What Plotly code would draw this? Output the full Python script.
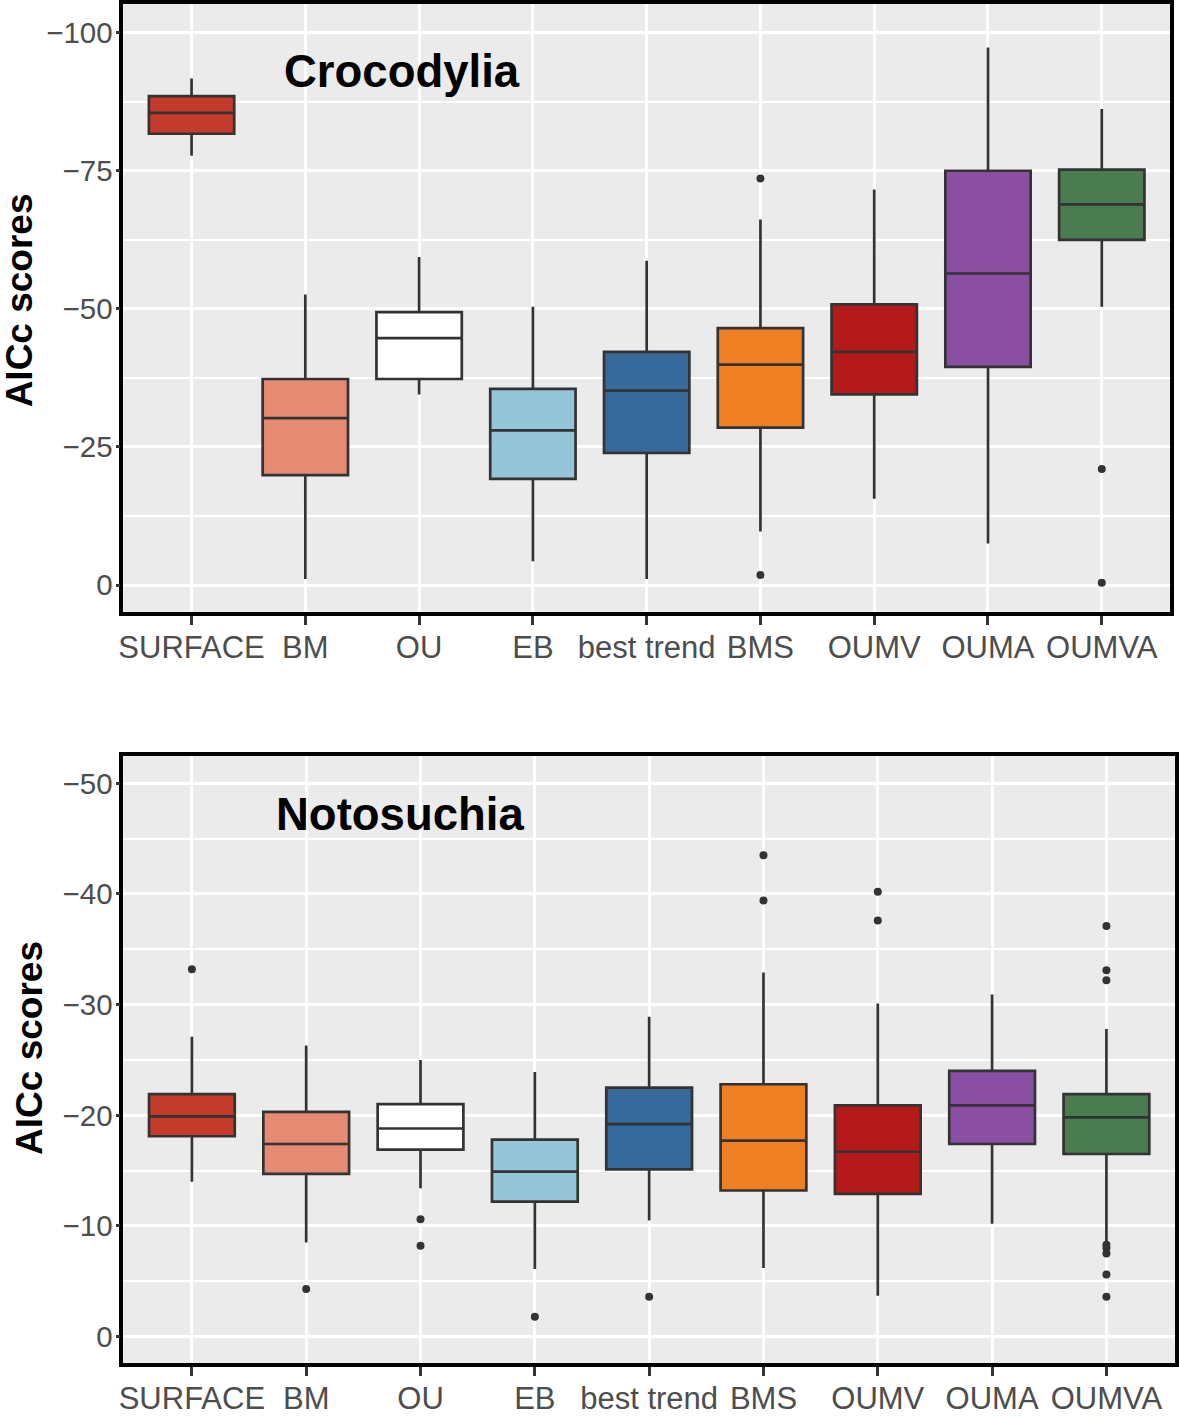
import plotly.graph_objects as go

categories = ["SURFACE", "BM", "OU", "EB", "best trend", "BMS", "OUMV", "OUMA", "OUMVA"]
box_colors = ["#C43A2B", "#E58A73", "#FFFFFF", "#95C6D8", "#37699A",
              "#EE7F22", "#B51A1B", "#8A4FA2", "#4A7B51"]

# Crocodylia (numerically lowest -> highest)
croc_lowerfence = [-91.7, -52.6, -59.4, -50.4, -58.7, -66.2, -71.6, -97.3, -86.2]
croc_q1 = [-88.5, -37.3, -49.4, -35.5, -42.2, -46.5, -50.8, -75.0, -75.2]
croc_median = [-85.5, -30.2, -44.7, -28.0, -35.2, -39.9, -42.2, -56.4, -68.9]
croc_q3 = [-81.7, -19.9, -37.3, -19.2, -23.9, -28.5, -34.5, -39.5, -62.5]
croc_upperfence = [-77.7, -1.1, -34.5, -4.3, -1.1, -9.7, -15.6, -7.5, -50.4]
croc_out_x = ["BMS", "BMS", "OUMVA", "OUMVA"]
croc_out_y = [-73.6, -1.8, -21.0, -0.4]

# Notosuchia
noto_lowerfence = [-27.1, -26.3, -25.0, -23.9, -28.9, -32.9, -30.1, -30.9, -27.8]
noto_q1 = [-21.9, -20.3, -21.0, -17.8, -22.5, -22.8, -20.9, -24.0, -21.9]
noto_median = [-19.9, -17.4, -18.8, -14.9, -19.2, -17.7, -16.7, -20.9, -19.8]
noto_q3 = [-18.1, -14.7, -16.9, -12.2, -15.1, -13.2, -12.9, -17.4, -16.5]
noto_upperfence = [-14.0, -8.5, -13.4, -6.1, -10.5, -6.2, -3.7, -10.2, -8.6]
noto_out_x = ["SURFACE", "BM", "OU", "OU", "EB", "best trend", "BMS", "BMS",
              "OUMV", "OUMV", "OUMVA", "OUMVA", "OUMVA", "OUMVA", "OUMVA",
              "OUMVA", "OUMVA", "OUMVA"]
noto_out_y = [-33.2, -4.3, -10.6, -8.2, -1.8, -3.6, -43.5, -39.4,
              -40.2, -37.6, -37.1, -33.1, -32.2, -8.3, -8.0, -7.5, -5.6, -3.6]

croc_ticks = [-100, -75, -50, -25, 0]
croc_minor = [-87.5, -62.5, -37.5, -12.5]
noto_ticks = [-50, -40, -30, -20, -10, 0]
noto_minor = [-45, -35, -25, -15, -5]

W, H = 1179, 1416
FONT = "Liberation Sans, Arial, Helvetica, sans-serif"
LINE = "#333333"

fig = go.Figure()

def add_panel(lf, q1, med, q3, uf, ox, oy, xa, ya):
    for i, c in enumerate(categories):
        fig.add_trace(go.Box(
            x=[c], q1=[q1[i]], median=[med[i]], q3=[q3[i]],
            lowerfence=[lf[i]], upperfence=[uf[i]],
            fillcolor=box_colors[i], line=dict(color=LINE, width=2.7),
            whiskerwidth=0, width=0.75, boxpoints=False,
            xaxis=xa, yaxis=ya, showlegend=False, hoverinfo="skip"))
    fig.add_trace(go.Scatter(
        x=ox, y=oy, mode="markers",
        marker=dict(color=LINE, size=8),
        xaxis=xa, yaxis=ya, showlegend=False, hoverinfo="skip"))

add_panel(croc_lowerfence, croc_q1, croc_median, croc_q3, croc_upperfence,
          croc_out_x, croc_out_y, "x", "y")
add_panel(noto_lowerfence, noto_q1, noto_median, noto_q3, noto_upperfence,
          noto_out_x, noto_out_y, "x2", "y2")

def xaxis_def(dom, anchor):
    return dict(domain=dom, anchor=anchor, type="category",
                categoryorder="array", categoryarray=categories,
                range=[-0.6, 8.6], showgrid=True, gridcolor="white", gridwidth=3,
                showline=True, mirror=True, linecolor="black", linewidth=3.5,
                ticks="outside", ticklen=9, tickwidth=3, tickcolor=LINE,
                ticklabelstandoff=-4,
                tickfont=dict(family=FONT, size=31, color="#4D4D4D"),
                zeroline=False, fixedrange=True)

def yaxis_def(dom, anchor, rng, ticks, minor):
    return dict(domain=dom, anchor=anchor, range=rng,
                tickmode="array", tickvals=ticks,
                ticktext=[("\u2212" + str(abs(t))) if t < 0 else str(t) for t in ticks],
                showgrid=True, gridcolor="white", gridwidth=3,
                minor=dict(tickmode="array", tickvals=minor, showgrid=True,
                           gridcolor="white", gridwidth=2, ticks=""),
                showline=True, mirror=True, linecolor="black", linewidth=3.5,
                ticks="outside", ticklen=4, tickwidth=2.5, tickcolor=LINE,
                ticklabelstandoff=-3,
                tickfont=dict(family=FONT, size=29.5, color="#4D4D4D"),
                zeroline=False, fixedrange=True)

fig.update_layout(
    width=W, height=H, margin=dict(l=0, r=0, t=0, b=0),
    paper_bgcolor="white", plot_bgcolor="#EBEBEB",
    boxmode="overlay",
    xaxis=xaxis_def([119 / W, 1172 / W], "y"),
    yaxis=yaxis_def([1 - 615 / H, 1 - 2 / H], "x", [4.85, -105.2], croc_ticks, croc_minor),
    xaxis2=xaxis_def([119 / W, 1177 / W], "y2"),
    yaxis2=yaxis_def([1 - 1373 / H, 1 - 760 / H], "x2", [2.42, -52.5], noto_ticks, noto_minor),
    annotations=[
        dict(text="<b>Crocodylia</b>", x=399 / W, y=1 - 70 / H, xref="paper", yref="paper",
             xanchor="center", yanchor="middle", showarrow=False,
             font=dict(family=FONT, size=45.5, color="black")),
        dict(text="<b>Notosuchia</b>", x=397 / W, y=1 - 819 / H, xref="paper", yref="paper",
             xanchor="center", yanchor="middle", showarrow=False,
             font=dict(family=FONT, size=45.5, color="black")),
        dict(text="<b>AICc scores</b>", x=15 / W, y=1 - 301 / H, xref="paper", yref="paper",
             xanchor="center", yanchor="middle", showarrow=False, textangle=-90,
             font=dict(family=FONT, size=37, color="black")),
        dict(text="<b>AICc scores</b>", x=24 / W, y=1 - 1055 / H, xref="paper", yref="paper",
             xanchor="center", yanchor="middle", showarrow=False, textangle=-90,
             font=dict(family=FONT, size=37, color="black")),
    ],
)

post = (
    "var gd=document.getElementById('{plot_id}');"
    "document.documentElement.style.margin='0';"
    "document.documentElement.style.padding='0';"
    "document.documentElement.style.overflow='hidden';"
    "document.documentElement.style.height='1416px';"
    "document.body.style.margin='0';"
    "document.body.style.padding='0';"
    "document.body.style.overflow='hidden';"
    "document.body.style.height='1416px';"
    "if(gd&&gd.parentNode){gd.parentNode.style.fontSize='0';"
    "gd.parentNode.style.lineHeight='0';gd.parentNode.style.height='1416px';"
    "gd.parentNode.style.overflow='hidden';}"
)

fig.write_html("out.html", config={"displayModeBar": False}, post_script=post)
